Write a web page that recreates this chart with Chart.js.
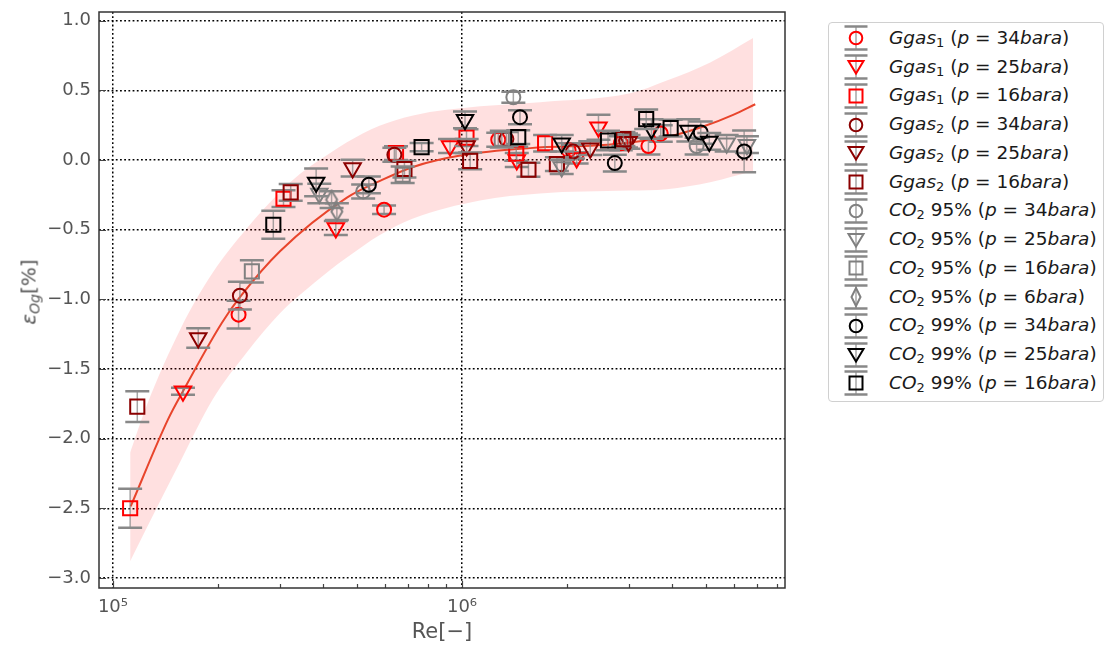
<!DOCTYPE html>
<html><head><meta charset="utf-8">
<script src="https://cdn.jsdelivr.net/npm/chart.js@4.4.1/dist/chart.umd.min.js"></script>
<style>
html,body{margin:0;padding:0;background:#fff;}
#wrap{position:relative;width:1105px;height:653px;overflow:hidden;}
#c{position:absolute;left:0;top:0;}
#ylab{position:absolute;left:30px;top:292px;transform:translate(-50%,-50%) rotate(-90deg);font-family:"DejaVu Sans";font-size:20px;color:#555;white-space:nowrap;line-height:1;}
#ylab sub{font-size:14px;vertical-align:-4px;}
#legend{position:absolute;left:828px;top:22px;width:276px;height:380px;border:1px solid #d0d0d0;border-radius:4px;background:#fff;box-sizing:border-box;font-family:"DejaVu Sans";font-size:18.5px;color:#1a1a1a;}
.row{position:absolute;left:0;height:28.75px;width:100%;}
.row svg{position:absolute;left:12px;top:0.4px;}
.row .t{position:absolute;left:60px;top:0;height:28.75px;line-height:28.75px;white-space:nowrap;}
.t sub{font-size:13px;vertical-align:-3px;line-height:0;}
</style></head>
<body><div id="wrap"><canvas id="c" width="1105" height="653"></canvas><div id="ylab"><i>ε</i><sub><i>Og</i></sub>[%]</div><div id="legend"></div></div>
<script>
// ---- axis ticks ----
const xMajorTicks = [1e5, 1e6];
const xMinorTicks = [2e5,3e5,4e5,5e5,6e5,7e5,8e5,9e5,2e6,3e6,4e6,5e6,6e6,7e6,8e6];
const xTickLabels = ['10\u2075', '10\u2076'];
const yTicks = [-3.0,-2.5,-2.0,-1.5,-1.0,-0.5,0.0,0.5,1.0];

// ---- fit curve & confidence band ----
const fitRe  = [1.124e5,1.438e5,1.587e5,2.05e5,2.31e5,3.01e5,4.68e5,5.82e5,7.24e5,1.007e6,1.567e6,2.78e6,3.94e6,4.91e6,5.98e6,6.92e6];
const fitVal = [-2.486,-1.862,-1.66,-1.17,-0.985,-0.655,-0.27,-0.15,-0.05,0.035,0.085,0.115,0.17,0.24,0.324,0.40];
const bandRe    = [1.12e5,1.25e5,1.556e5,1.93e5,2.42e5,3.01e5,3.43e5,4.19e5,4.68e5,5.8e5,7.24e5,1.126e6,1.673e6,3.03e6,3.86e6,5.14e6,6.82e6];
const bandUpper = [-2.10,-1.76,-1.22,-0.81,-0.49,-0.23,-0.10,0.05,0.127,0.245,0.32,0.385,0.415,0.478,0.57,0.70,0.876];
const bandLower = [-2.88,-2.64,-2.17,-1.72,-1.38,-1.10,-0.97,-0.79,-0.70,-0.54,-0.42,-0.29,-0.24,-0.22,-0.21,-0.16,-0.08];

// ---- measured series ----
const g1p34Re  = [2.29e5,5.98e5,1.27e6,2.02e6,2.85e6,3.42e6,3.71e6];
const g1p34Val = [-1.11,-0.357,0.145,0.07,0.12,0.10,0.19];
const g1p34Err = [0.10,0.03,0.05,0.05,0.05,0.06,0.06];

const g1p25Re  = [1.587e5,4.35e5,9.24e5,1.435e6,2.13e6,2.46e6];
const g1p25Val = [-1.66,-0.488,0.10,0.0,0.015,0.235];
const g1p25Err = [0.025,0.05,0.05,0.05,0.04,0.09];

const g1p16Re  = [1.12e5,3.08e5,6.47e5,1.03e6,1.43e6,1.73e6];
const g1p16Val = [-2.50,-0.278,0.049,0.16,0.045,0.12];
const g1p16Err = [0.14,0.06,0.05,0.06,0.05,0.06];

const g2p34Re  = [2.31e5,6.4e5,1.34e6,2.08e6,2.95e6];
const g2p34Val = [-0.974,0.037,0.15,0.06,0.14];
const g2p34Err = [0.10,0.05,0.05,0.05,0.05];

const g2p25Re  = [1.755e5,4.86e5,1.031e6,2.33e6,3.0e6];
const g2p25Val = [-1.277,-0.058,0.10,0.085,0.13];
const g2p25Err = [0.07,0.06,0.05,0.05,0.05];

const g2p16Re  = [1.174e5,3.23e5,6.84e5,1.055e6,1.55e6,1.87e6,2.9e6];
const g2p16Val = [-1.77,-0.233,-0.065,-0.006,-0.07,-0.03,0.15];
const g2p16Err = [0.11,0.06,0.06,0.06,0.05,0.05,0.05];

const c95p34Re  = [5.21e5,1.403e6,4.7e6];
const c95p34Val = [-0.226,0.45,0.10];
const c95p34Err = [0.05,0.04,0.06];

const c95p25Re  = [3.9e5,1.93e6,5.73e6,6.55e6];
const c95p25Val = [-0.24,-0.05,0.12,0.11];
const c95p25Err = [0.07,0.05,0.06,0.06];

const c95p16Re  = [2.5e5,6.76e5,1.3e6];
const c95p16Val = [-0.80,-0.106,0.15];
const c95p16Err = [0.08,0.06,0.06];

const c95p6Re  = [4.23e5,4.38e5];
const c95p6Val = [-0.285,-0.37];
const c95p6Err = [0.06,0.06];

const c99p34Re  = [5.41e5,1.466e6,2.74e6,4.83e6,6.43e6];
const c99p34Val = [-0.178,0.307,-0.022,0.197,0.061];
const c99p34Err = [0.06,0.05,0.06,0.08,0.15];

const c99p25Re  = [3.82e5,1.02e6,1.93e6,3.49e6,4.45e6,5.11e6];
const c99p25Val = [-0.161,0.288,0.12,0.222,0.212,0.133];
const c99p25Err = [0.10,0.06,0.06,0.07,0.08,0.06];

const c99p16Re  = [2.88e5,7.66e5,1.449e6,2.62e6,3.37e6,3.96e6];
const c99p16Val = [-0.465,0.092,0.164,0.14,0.293,0.229];
const c99p16Err = [0.10,0.03,0.05,0.07,0.07,0.06];

const RED='#ff0000', DRED='#8b0000', GRAY='#808080', BLACK='#000000';
const G1='<i>Ggas</i><sub>1</sub>', G2='<i>Ggas</i><sub>2</sub>', C='<i>CO</i><sub>2</sub>';
const P = (n)=>' (<i>p</i> = '+n+'<i>bara</i>)';
const series = [
  {label:G1+P(34), re:g1p34Re, val:g1p34Val, err:g1p34Err, color:RED, style:'circle'},
  {label:G1+P(25), re:g1p25Re, val:g1p25Val, err:g1p25Err, color:RED, style:'tri'},
  {label:G1+P(16), re:g1p16Re, val:g1p16Val, err:g1p16Err, color:RED, style:'square'},
  {label:G2+P(34), re:g2p34Re, val:g2p34Val, err:g2p34Err, color:DRED, style:'circle'},
  {label:G2+P(25), re:g2p25Re, val:g2p25Val, err:g2p25Err, color:DRED, style:'tri'},
  {label:G2+P(16), re:g2p16Re, val:g2p16Val, err:g2p16Err, color:DRED, style:'square'},
  {label:C+' 95%'+P(34), re:c95p34Re, val:c95p34Val, err:c95p34Err, color:GRAY, style:'circle'},
  {label:C+' 95%'+P(25), re:c95p25Re, val:c95p25Val, err:c95p25Err, color:GRAY, style:'tri'},
  {label:C+' 95%'+P(16), re:c95p16Re, val:c95p16Val, err:c95p16Err, color:GRAY, style:'square'},
  {label:C+' 95%'+P(6),  re:c95p6Re,  val:c95p6Val,  err:c95p6Err,  color:GRAY, style:'diamond'},
  {label:C+' 99%'+P(34), re:c99p34Re, val:c99p34Val, err:c99p34Err, color:BLACK, style:'circle'},
  {label:C+' 99%'+P(25), re:c99p25Re, val:c99p25Val, err:c99p25Err, color:BLACK, style:'tri'},
  {label:C+' 99%'+P(16), re:c99p16Re, val:c99p16Val, err:c99p16Err, color:BLACK, style:'square'},
];

function thinDiamond(color){
  const cv=document.createElement('canvas'); cv.width=16; cv.height=22;
  const g=cv.getContext('2d'); g.strokeStyle=color; g.lineWidth=2;
  g.beginPath(); g.moveTo(8,2); g.lineTo(13.5,11); g.lineTo(8,20); g.lineTo(2.5,11); g.closePath(); g.stroke();
  return cv;
}
function pointOpts(s){
  switch(s.style){
    case 'circle': return {pointStyle:'circle', pointRadius:7, pointRotation:0};
    case 'tri': return {pointStyle:'triangle', pointRadius:9.5, pointRotation:180};
    case 'square': return {pointStyle:'rect', pointRadius:10, pointRotation:0};
    case 'diamond': return {pointStyle:thinDiamond(s.color), pointRadius:8, pointRotation:0};
  }
}
const zip=(a,b)=>a.map((v,i)=>({x:v,y:b[i]}));

const datasets = [
  {type:'line', data:zip(bandRe,bandLower), borderWidth:0, borderColor:'rgba(0,0,0,0)', pointRadius:0, fill:false, cubicInterpolationMode:'monotone', order:100},
  {type:'line', data:zip(bandRe,bandUpper), borderWidth:0, borderColor:'rgba(0,0,0,0)', pointRadius:0, fill:'-1', backgroundColor:'rgba(255,0,0,0.12)', cubicInterpolationMode:'monotone', order:99},
  {type:'line', data:zip(fitRe,fitVal), borderWidth:2, borderColor:'#e8452c', pointRadius:0, fill:false, cubicInterpolationMode:'monotone', order:98},
];
series.forEach((s,i)=>{
  datasets.push(Object.assign({type:'scatter', data:zip(s.re,s.val), errors:s.err, showLine:false,
    borderColor:s.color, backgroundColor:'rgba(0,0,0,0)', borderWidth:2, order:50-i}, pointOpts(s)));
});

const errorBars = {
  id:'errorBars',
  beforeDatasetDraw(chart,args){
    const ds=chart.data.datasets[args.index];
    if(!ds.errors) return;
    const xs=chart.scales.x, ys=chart.scales.y, ctx=chart.ctx;
    ctx.save();
    ds.data.forEach((p,i)=>{
      const px=xs.getPixelForValue(p.x);
      const yt=ys.getPixelForValue(p.y+ds.errors[i]);
      const yb=ys.getPixelForValue(p.y-ds.errors[i]);
      ctx.strokeStyle='rgba(128,128,128,0.7)'; ctx.lineWidth=1.5;
      ctx.beginPath(); ctx.moveTo(px,yt); ctx.lineTo(px,yb); ctx.stroke();
      ctx.strokeStyle='#888888'; ctx.lineWidth=2.5;
      ctx.beginPath(); ctx.moveTo(px-12,yt); ctx.lineTo(px+12,yt); ctx.moveTo(px-12,yb); ctx.lineTo(px+12,yb); ctx.stroke();
    });
    ctx.restore();
  }
};
const frameTicks = {
  id:'frameTicks',
  afterDraw(chart){
    const {ctx, chartArea:a} = chart; const xs=chart.scales.x, ys=chart.scales.y;
    ctx.save();
    ctx.strokeStyle='#444'; ctx.lineWidth=1.2;
    ctx.beginPath();
    xMajorTicks.forEach(v=>{const p=Math.round(xs.getPixelForValue(v))+0.5; ctx.moveTo(p,a.bottom); ctx.lineTo(p,a.bottom-7);});
    xMinorTicks.forEach(v=>{const p=Math.round(xs.getPixelForValue(v))+0.5; ctx.moveTo(p,a.bottom); ctx.lineTo(p,a.bottom-4);});
    yTicks.forEach(v=>{const p=Math.round(ys.getPixelForValue(v))+0.5; ctx.moveTo(a.left,p); ctx.lineTo(a.left+7,p);});
    ctx.stroke();
    ctx.strokeStyle='#333'; ctx.lineWidth=1.5;
    ctx.strokeRect(a.left, a.top, a.right-a.left, a.bottom-a.top);
    ctx.restore();
  }
};
const noPad = (sc)=>{sc.paddingTop=0; sc.paddingBottom=0; sc.paddingLeft=0; sc.paddingRight=0;};

new Chart(document.getElementById('c'), {
  data:{datasets},
  options:{
    responsive:false, animation:false, devicePixelRatio:1, events:[],
    layout:{padding:{left:0, top:12, right:320, bottom:0}},
    plugins:{legend:{display:false}, tooltip:{enabled:false}},
    scales:{
      x:{type:'logarithmic', min:91200, max:8.42e6,
        afterBuildTicks:(sc)=>{sc.ticks=xMajorTicks.concat(xMinorTicks).sort((a,b)=>a-b).map(v=>({value:v}));},
        afterFit:(sc)=>{sc.height=65; noPad(sc);},
        ticks:{autoSkip:false, maxRotation:0, padding:9, color:'#555', font:{family:'DejaVu Sans', size:18},
          callback:(v)=>{const k=xMajorTicks.indexOf(v); return k>=0?xTickLabels[k]:'';}},
        grid:{drawTicks:false, lineWidth:1.5, color:(c)=> (c.tick && xMajorTicks.includes(c.tick.value)) ? '#000' : 'rgba(0,0,0,0)'},
        border:{display:false, dash:[1.8,2.4]},
        title:{display:true, text:'Re[\u2212]', color:'#555', font:{family:'DejaVu Sans', size:21}, padding:{top:0,bottom:8}}
      },
      y:{type:'linear', min:-3.072, max:1.062,
        afterBuildTicks:(sc)=>{sc.ticks=yTicks.map(v=>({value:v}));},
        afterFit:(sc)=>{sc.width=99; noPad(sc);},
        ticks:{padding:8, color:'#555', font:{family:'DejaVu Sans', size:18},
          callback:(v)=> (v<0?'\u2212':'')+Math.abs(v).toFixed(1)},
        grid:{drawTicks:false, lineWidth:1.5, color:'#000'},
        border:{display:false, dash:[1.8,2.4]}
      }
    }
  },
  plugins:[errorBars, frameTicks]
});

// ---- legend ----
function iconSVG(s){
  const c=s.color;
  let m='';
  if(s.style==='circle') m=`<circle cx="15" cy="14" r="6.3" fill="none" stroke="${c}" stroke-width="2"/>`;
  if(s.style==='tri') m=`<polygon points="7.5,8 22.5,8 15,20.5" fill="none" stroke="${c}" stroke-width="2" stroke-linejoin="miter"/>`;
  if(s.style==='square') m=`<rect x="8.5" y="7.5" width="13" height="13" fill="none" stroke="${c}" stroke-width="2"/>`;
  if(s.style==='diamond') m=`<polygon points="15,5 19.5,14 15,23 10.5,14" fill="none" stroke="${c}" stroke-width="2"/>`;
  return `<svg width="30" height="28" viewBox="0 0 30 28"><line x1="15" y1="2.5" x2="15" y2="25.5" stroke="rgba(128,128,128,0.7)" stroke-width="1.5"/>`+
    `<line x1="3.5" y1="2.5" x2="26.5" y2="2.5" stroke="#888" stroke-width="2.5"/><line x1="3.5" y1="25.5" x2="26.5" y2="25.5" stroke="#888" stroke-width="2.5"/>${m}</svg>`;
}
const lg=document.getElementById('legend');
series.forEach((s,i)=>{
  const r=document.createElement('div'); r.className='row'; r.style.top=(0.9+28.75*i)+'px';
  r.innerHTML=iconSVG(s)+`<span class="t">${s.label}</span>`;
  lg.appendChild(r);
});
</script></body></html>
